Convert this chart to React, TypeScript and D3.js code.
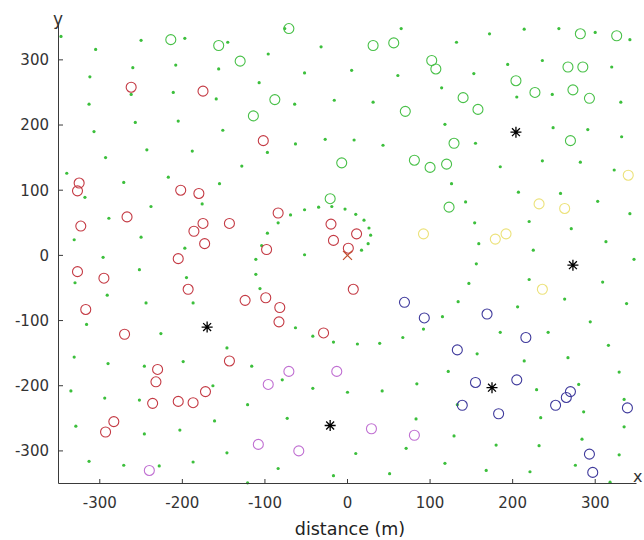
import React from "react";
import * as d3 from "d3";

// Grid of sample points (small green dots)
const gridPoints: [number, number][] = [
  [-347, 336], [-305, 316], [-250, 330], [-197, 333], [-145, 327], [-260, 288], [-208, 292], [-156, 286],
  [-312, 274], [-262, 247], [-211, 250], [-159, 240], [-313, 232], [-257, 204], [-205, 206], [-151, 192],
  [-307, 190], [-243, 162], [-188, 160], [-128, 137], [-293, 150], [-340, 126], [-271, 112], [-217, 120],
  [-155, 110], [-318, 89], [-176, 79], [-238, 75], [-289, 57], [-331, 24], [-250, 28], [-197, 11],
  [-76, 348], [65, 348], [-32, 320], [-96, 309], [-52, 280], [5, 284], [61, 276], [114, 257],
  [-107, 265], [-64, 232], [-16, 238], [31, 235], [118, 201], [-63, 171], [-27, 178], [8, 177],
  [43, 169], [-97, 158],
  [-52, 70], [-35, 74], [-19, 75], [-3, 71], [10, 63], [20, 54], [26, 42], [28, 31], [25, 18], [17, 8],
  [-69, 62], [-84, 50], [-97, 34], [-104, 15], [-52, 1],
  [172, 340], [214, 347], [256, 348], [300, 342], [342, 331], [132, 327], [194, 293], [236, 299],
  [320, 289], [153, 279], [205, 243], [248, 247], [331, 235], [155, 172], [249, 196], [291, 193],
  [332, 182], [236, 145], [282, 143], [323, 131], [185, 136], [126, 110], [207, 97], [258, 95],
  [303, 83], [143, 82], [342, 64], [154, 50], [220, 52], [271, 41], [159, 18], [313, 21], [225, 8],
  [-296, -3], [-252, -22], [-330, -42], [-195, -34], [-291, -61], [-244, -73], [-187, -73], [-316, -106],
  [-226, -120], [-146, -142], [-331, -156], [-290, -166], [-246, -170], [-199, -163], [-116, -170],
  [-335, -208], [-294, -219], [-252, -222], [-163, -200], [-121, -229], [-329, -262], [-246, -274],
  [-203, -268], [-161, -254], [-313, -316], [-271, -322], [-228, -323], [-187, -317], [-146, -303],
  [-121, -349], [-79, -191], [-42, -204], [-73, -250], [-84, -327],
  [-111, -6], [-111, -29], [-106, -51], [-63, -111], [-42, -124], [-17, -133], [12, -136], [39, -135],
  [67, -126], [92, -113], [115, -94], [0, -210], [42, -208], [84, -197], [122, -178], [83, -251],
  [10, -304], [71, -296], [-17, -338], [51, -335], [118, -319],
  [347, -6], [156, -13], [147, -43], [220, -37], [309, -41], [134, -71], [206, -79], [263, -67],
  [338, -74], [185, -118], [243, -118], [294, -102], [316, -138], [157, -151], [214, -162], [267, -157],
  [329, -179], [229, -206], [280, -198], [335, -221], [286, -240], [234, -249], [335, -263], [129, -277],
  [180, -291], [232, -292], [284, -282], [329, -306], [168, -330], [221, -332], [276, -322], [318, -348],
  [133, -229],
];

// Nodes grouped by cluster
const greenNodes: [number, number][] = [
  [-214, 331], [-156, 322], [-130, 298], [-114, 214], [-71, 348], [31, 322], [56, 326], [102, 299],
  [107, 286], [-88, 239], [70, 221], [-7, 142], [81, 146], [100, 135], [120, 140], [-21, 87], [123, 74],
  [282, 340], [326, 337], [267, 289], [285, 289], [204, 268], [227, 250], [273, 254], [293, 241],
  [140, 242], [158, 224], [129, 172], [270, 176],
];

const redNodes: [number, number][] = [
  [-262, 258], [-175, 252], [-325, 111], [-327, 99], [-202, 100], [-180, 95], [-267, 59], [-323, 45],
  [-175, 49], [-143, 49], [-186, 37], [-173, 18], [-102, 176], [-84, 65], [-20, 48], [-17, 23],
  [11, 33], [1, 11], [-98, 9], [-205, -5], [-327, -25], [-295, -35], [-193, -52], [-124, -69],
  [-317, -83], [-270, -121], [-143, -162], [-230, -175], [-232, -194], [-172, -209], [-236, -227],
  [-205, -224], [-187, -226], [-283, -255], [-293, -271], [7, -52], [-99, -65], [-82, -80],
  [-83, -102], [-29, -119],
];

const blueNodes: [number, number][] = [
  [69, -72], [93, -96], [169, -90], [216, -126], [133, -145], [155, -195], [205, -191], [139, -230],
  [183, -243], [252, -230], [265, -218], [270, -209], [339, -234], [293, -305], [297, -333],
];

const magentaNodes: [number, number][] = [
  [-240, -330], [-71, -178], [-96, -198], [-108, -290], [-59, -300], [-13, -178], [29, -266], [81, -276],
];

const yellowNodes: [number, number][] = [
  [340, 123], [232, 79], [263, 72], [179, 25], [192, 33], [92, 33], [236, -52],
];

// Cluster heads
const heads: [number, number][] = [
  [204, 189], [-170, -110], [-21, -261], [273, -15], [175, -203],
];

// Sink at the origin
const sink: [number, number][] = [[0, 0]];

const xTicks = [-300, -200, -100, 0, 100, 200, 300];
const yTicks = [-300, -200, -100, 0, 100, 200, 300];

const W = 644;
const H = 540;
const left = 58.5;
const right = 636.5;
const top = 24;
const bottom = 483.5;

export default function App() {
  const x = d3.scaleLinear().domain([-350, 350]).range([left, right]);
  const y = d3.scaleLinear().domain([-350, 355]).range([bottom, top]);

  const axisColor = "#3a3a3a";
  const font = "'DejaVu Sans', sans-serif";

  const circles = (pts: [number, number][], color: string, key: string) =>
    pts.map(([a, b], i) => (
      <circle
        key={`${key}${i}`}
        cx={x(a)}
        cy={y(b)}
        r={5}
        fill="none"
        stroke={color}
        strokeWidth={1.1}
      />
    ));

  const star = (cx: number, cy: number, s: number) => {
    const d = s * 0.72;
    return `M${cx - s},${cy}L${cx + s},${cy}M${cx},${cy - s}L${cx},${cy + s}` +
      `M${cx - d},${cy - d}L${cx + d},${cy + d}M${cx - d},${cy + d}L${cx + d},${cy - d}`;
  };

  const cross = (cx: number, cy: number, s: number) =>
    `M${cx - s},${cy - s}L${cx + s},${cy + s}M${cx - s},${cy + s}L${cx + s},${cy - s}`;

  return (
    <svg
      width={W}
      height={H}
      style={{ position: "absolute", left: 0, top: 0, background: "#fff" }}
    >
      <rect x={0} y={0} width={W} height={H} fill="#fff" />

      {/* sample grid */}
      {gridPoints.map(([a, b], i) => (
        <circle key={`g${i}`} cx={x(a)} cy={y(b)} r={1.6} fill="#3cbf3c" />
      ))}

      {circles(greenNodes, "#48c048", "gn")}
      {circles(redNodes, "#c43a44", "rn")}
      {circles(blueNodes, "#3f3a9c", "bn")}
      {circles(magentaNodes, "#c070d2", "mn")}
      {circles(yellowNodes, "#ece27a", "yn")}

      {heads.map(([a, b], i) => (
        <path key={`h${i}`} d={star(x(a), y(b), 5.5)} stroke="#000" strokeWidth={1.3} fill="none" />
      ))}

      {sink.map(([a, b], i) => (
        <path key={`s${i}`} d={cross(x(a), y(b), 4.5)} stroke="#c0502e" strokeWidth={1.2} fill="none" />
      ))}

      {/* axes */}
      <line x1={left} x2={left} y1={top} y2={bottom} stroke={axisColor} strokeWidth={1} />
      <line x1={left} x2={right} y1={bottom} y2={bottom} stroke={axisColor} strokeWidth={1} />

      {xTicks.map((t) => (
        <g key={`xt${t}`}>
          <line x1={x(t)} x2={x(t)} y1={bottom} y2={bottom - 4.5} stroke={axisColor} />
          <text
            x={x(t)}
            y={508}
            textAnchor="middle"
            fontFamily={font}
            fontSize={15}
            fill="#333"
          >
            {t}
          </text>
        </g>
      ))}

      {yTicks.map((t) => (
        <g key={`yt${t}`}>
          <line x1={left} x2={left + 4.5} y1={y(t)} y2={y(t)} stroke={axisColor} />
          <text
            x={49}
            y={y(t)}
            dy="0.36em"
            textAnchor="end"
            fontFamily={font}
            fontSize={15}
            fill="#333"
          >
            {t}
          </text>
        </g>
      ))}

      <text x={58} y={25} textAnchor="middle" fontFamily={font} fontSize={17} fill="#333">
        y
      </text>
      <text x={633} y={482} fontFamily={font} fontSize={16} fill="#333">
        x
      </text>
      <text x={350} y={535} textAnchor="middle" fontFamily={font} fontSize={17.5} fill="#222">
        distance (m)
      </text>
    </svg>
  );
}
